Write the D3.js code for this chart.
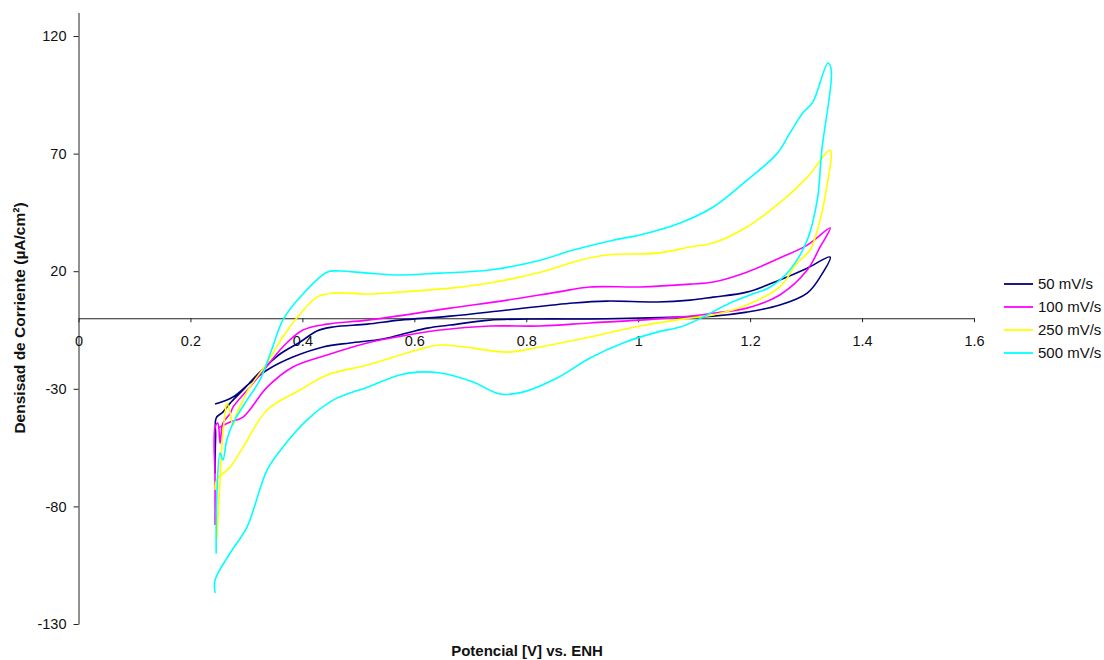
<!DOCTYPE html>
<html><head><meta charset="utf-8">
<script src="https://cdn.jsdelivr.net/npm/d3@7"></script>
<style>
body{margin:0;background:#fff;}
svg{display:block;font-family:"Liberation Sans",Arial,sans-serif;}
</style></head>
<body><svg id="c" width="1104" height="660"></svg>
<script>
// Series: [potential V, current density µA/cm²]
const seriesNames = ["50 mV/s","100 mV/s","250 mV/s","500 mV/s"];
const seriesColors = ["#000080","#FF00FF","#FFFF00","#00FFFF"];
const xTicks = [0,0.2,0.4,0.6,0.8,1,1.2,1.4,1.6];
const yTicks = [-130,-80,-30,20,70,120];

const s50 = [
 [0.244,-66],[0.244,-60],[0.245,-50],[0.246,-42.4],[0.258,-39.9],[0.271,-36.1],[0.294,-30.5],
 [0.324,-22.9],[0.360,-15.2],[0.396,-10.1],[0.426,-5.4],[0.455,-3.7],[0.516,-2.5],[0.574,-0.8],
 [0.664,0.9],[0.766,3.5],[0.884,6.5],[0.944,7.3],[1.034,6.9],[1.093,7.7],[1.134,9.0],[1.194,11.1],
 [1.253,16.3],[1.302,21.3],[1.343,26.0],
 [1.325,17.5],[1.302,10.7],[1.253,5.6],[1.194,2.6],[1.134,0.9],[1.075,0.5],[1.003,0.1],[0.914,-0.3],
 [0.825,-0.3],[0.735,-0.8],[0.664,-2.9],[0.623,-4.2],[0.587,-6.3],[0.544,-8.8],[0.485,-10.5],
 [0.437,-12.2],[0.383,-16.5],[0.337,-22.0],[0.306,-27.6],[0.276,-33.5],[0.244,-36.5]
];
const s100 = [
 [0.244,-87.9],[0.244,-68.8],[0.244,-46.3],[0.249,-44.6],[0.253,-53.1],[0.258,-44.6],[0.271,-40.5],
 [0.276,-37.8],[0.306,-29.3],[0.337,-20.3],[0.365,-12.2],[0.401,-5.0],[0.444,-2.5],[0.516,-0.8],
 [0.664,4.3],[0.766,7.7],[0.855,11.1],[0.914,13.3],[1.003,13.3],[1.093,14.5],[1.134,15.4],
 [1.194,19.6],[1.253,25.6],[1.302,31.1],[1.343,38.4],
 [1.325,30.3],[1.302,20.5],[1.253,9.9],[1.194,4.3],[1.134,2.2],[1.093,0.9],[1.003,-0.8],[0.914,-2.0],
 [0.825,-3.3],[0.735,-3.3],[0.646,-5.0],[0.574,-7.7],[0.516,-10.5],[0.444,-15.6],[0.383,-20.7],
 [0.337,-29.3],[0.294,-42.0],[0.271,-44.1],[0.249,-46.7]
];
const s250 = [
 [0.247,-94.4],[0.253,-68.8],[0.256,-54.8],[0.262,-40.3],[0.265,-36.1],[0.271,-40.3],[0.276,-45.4],
 [0.283,-40.3],[0.294,-34.8],[0.306,-29.3],[0.337,-19.0],[0.365,-8.0],[0.390,0.1],[0.426,9.0],
 [0.455,10.7],[0.516,10.3],[0.574,11.1],[0.664,12.8],[0.735,15.0],[0.825,19.6],[0.896,24.7],
 [0.944,26.9],[1.034,27.7],[1.093,30.3],[1.134,32.0],[1.194,38.8],[1.259,50.3],[1.302,59.9],[1.343,71.4],
 [1.336,54.5],[1.325,41.7],[1.307,29.0],[1.284,23.5],[1.253,13.3],[1.194,5.6],[1.134,1.4],[1.093,0.1],
 [1.003,-3.3],[0.914,-8.0],[0.825,-12.2],[0.766,-14.4],[0.705,-12.7],[0.646,-11.4],[0.605,-13.5],
 [0.516,-19.9],[0.444,-24.1],[0.396,-30.5],[0.337,-39.0],[0.294,-54.8],[0.271,-63.3],[0.247,-68.8],[0.244,-73.0]
];
const s500 = [
 [0.246,-100],[0.247,-76.0],[0.253,-57.3],[0.258,-60.3],[0.265,-51.8],[0.276,-44.6],[0.301,-34.8],
 [0.324,-26.3],[0.345,-13.5],[0.365,-0.8],[0.396,9.0],[0.444,19.6],[0.467,20.1],[0.516,19.2],[0.574,18.4],
 [0.646,19.2],[0.735,20.5],[0.825,24.7],[0.884,29.0],[0.955,33.2],[1.003,35.4],[1.075,40.5],
 [1.134,47.3],[1.194,58.6],[1.248,70.0],[1.271,78.7],[1.294,87.3],[1.312,91.9],[1.339,108.5],[1.345,105.5],
 [1.328,71.4],[1.320,50.3],[1.302,33.2],[1.271,20.5],[1.236,13.3],[1.200,9.9],[1.164,6.5],[1.105,-0.8],
 [1.075,-3.7],[1.034,-5.9],[0.973,-10.5],[0.914,-16.9],[0.855,-25.4],[0.794,-31.4],[0.753,-32.2],
 [0.705,-27.1],[0.646,-23.3],[0.605,-22.9],[0.574,-24.1],[0.516,-29.3],[0.455,-34.8],[0.408,-43.3],
 [0.365,-54.8],[0.337,-64.5],[0.301,-88.8],[0.271,-99.8],[0.244,-111.3],[0.244,-116.8]
];
const allSeries = [s50,s100,s250,s500];

const svg = d3.select("#c");
const x = d3.scaleLinear().domain([0,1.6]).range([78.5,974]);
const y = d3.scaleLinear().domain([-130,130]).range([624,12.5]);
const axisColor = "#222";
const FONT = "'Liberation Sans',Arial,sans-serif";

// y axis
const ya = svg.append("g").attr("transform","translate(78.5,0)")
  .call(d3.axisLeft(y).tickValues(yTicks).tickSize(5).tickSizeOuter(0).tickFormat(d=>String(d)));
ya.select(".domain").attr("stroke",axisColor);
ya.selectAll(".tick line").attr("stroke",axisColor);
ya.selectAll(".tick text").attr("font-size",14.5).attr("fill","#111").attr("x",-12)
  .attr("font-family",FONT);

// x axis at y=0
const xa = svg.append("g").attr("transform",`translate(0,${y(0)})`)
  .call(d3.axisBottom(x).tickValues(xTicks).tickSize(4).tickSizeOuter(0).tickFormat(d=>String(d)));
xa.select(".domain").attr("stroke",axisColor);
xa.selectAll(".tick line").attr("stroke",axisColor);
xa.selectAll(".tick text").attr("font-size",14.5).attr("fill","#111").attr("y",17)
  .attr("font-family",FONT);

// lines
const line = d3.line().x(d=>x(d[0])).y(d=>y(d[1])).curve(d3.curveCatmullRom.alpha(0.5));
allSeries.forEach((s,i)=>{
  svg.append("path").datum(s).attr("d",line).attr("fill","none")
    .attr("stroke",seriesColors[i]).attr("stroke-width",1.6).attr("stroke-linejoin","round");
});

// axis titles
svg.append("text").attr("x",527).attr("y",656).attr("text-anchor","middle")
  .attr("font-size",15).attr("font-weight","bold").attr("fill","#111").text("Potencial [V] vs. ENH");
svg.append("text").attr("transform","translate(25,318) rotate(-90)").attr("text-anchor","middle")
  .attr("font-size",15.5).attr("font-weight","bold").attr("fill","#111").text("Densisad de Corriente (µA/cm²)");

// legend
const lg = svg.append("g");
seriesNames.forEach((n,i)=>{
  const yy = 284 + i*23;
  lg.append("line").attr("x1",1004).attr("x2",1033).attr("y1",yy).attr("y2",yy)
    .attr("stroke",seriesColors[i]).attr("stroke-width",1.8);
  lg.append("text").attr("x",1038).attr("y",yy+5).attr("font-size",15).attr("fill","#111").text(n);
});
</script></body></html>
